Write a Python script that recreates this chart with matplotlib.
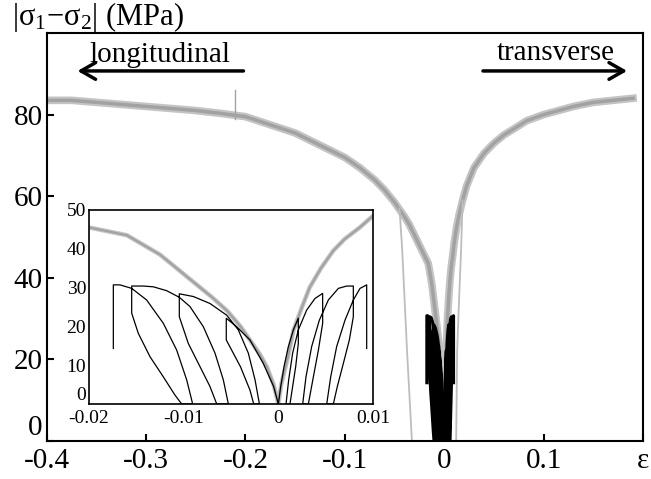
import matplotlib
matplotlib.use('Agg')
import matplotlib.pyplot as plt

plt.rcParams['font.family'] = ['Liberation Serif', 'DejaVu Serif']
plt.rcParams['mathtext.fontset'] = 'custom'
plt.rcParams['mathtext.rm'] = 'Liberation Serif'
plt.rcParams['mathtext.it'] = 'Liberation Serif:italic'

# gray monotonic curve (longitudinal side negative, transverse side positive)
gray_x = [-0.4, -0.375, -0.35, -0.325, -0.3, -0.275, -0.25, -0.225, -0.2, -0.175,
          -0.15, -0.125, -0.1, -0.085, -0.07, -0.06, -0.05, -0.04, -0.035, -0.03,
          -0.025, -0.02, -0.016, -0.0125, -0.009, -0.007, -0.0054, -0.004, -0.003,
          -0.002, -0.0012, -0.0005, 0.0,
          0.0003, 0.001, 0.0016, 0.0025, 0.0033, 0.0045, 0.0058, 0.007, 0.0086, 0.01,
          0.0125, 0.015, 0.0185, 0.0225, 0.03, 0.04, 0.05, 0.06, 0.07, 0.083, 0.1,
          0.115, 0.13, 0.15, 0.17, 0.19]
gray_y = [83.5, 83.5, 83, 82.5, 82, 81.5, 81, 80.3, 79.5, 77.5,
          75.5, 72.5, 69.5, 67, 64, 61.5, 58.5, 55, 53, 50.5,
          48, 45.5, 43.5, 38.5, 31.5, 27.5, 24, 20, 16.5,
          13, 9.5, 5, 0,
          5, 12, 19, 25, 30, 35, 39.5, 42.5, 45.5, 48.5,
          52.5, 55.5, 59, 62.5, 67, 70.5, 73, 75, 76.5, 78.5, 80,
          81, 82, 83, 83.5, 84]

# thin gray unloading branches
unl_left_x = [-0.045, -0.0423, -0.0374, -0.0325]
unl_left_y = [57, 47, 22, 0]
unl_right_x = [0.0185, 0.017, 0.015, 0.013, 0.012]
unl_right_y = [59, 47, 35, 22, 0]

spike_x = [-0.211, -0.211]
spike_y = [79, 86]

# cyclic loops, longitudinal (negative strain)
loop_l_x = [0.0, -0.0005, -0.0016, -0.0030, -0.0044, -0.0055,
            -0.0055, -0.0040, -0.0030, -0.0026, -0.0020,
            -0.00246, -0.00317, -0.00423, -0.00546, -0.00722, -0.00898, -0.01046,
            -0.01046, -0.00951, -0.00827, -0.00722, -0.00651, -0.00528,
            -0.00581, -0.00669, -0.00792, -0.00933, -0.01046, -0.0118, -0.0132, -0.01426, -0.01549,
            -0.01549, -0.01479, -0.01356, -0.01215, -0.01092, -0.01021, -0.00905,
            -0.00968, -0.01074, -0.01215, -0.01391, -0.01549, -0.01673, -0.01743,
            -0.01743]
loop_l_y = [0, 4.5, 10.5, 16.5, 19.9, 22.1,
            16.5, 9.6, 3.6, 0, 0,
            6.2, 13.1, 19.1, 22.9, 25.9, 27.7, 28.4,
            22.5, 15.6, 9.6, 4.5, 0, 0,
            6.2, 13.1, 19.9, 25.1, 27.5, 29.2, 30.2, 30.4, 30.4,
            23.4, 18.2, 12.2, 7.0, 2.3, 0, 0,
            6.2, 13.9, 20.8, 26.8, 29.8, 30.7, 30.7,
            14.3]

# cyclic loops, transverse (positive strain)
loop_t_x = [0.0, 0.00025, 0.0006, 0.00106, 0.00158, 0.00211,
            0.00211, 0.00183, 0.00151, 0.00123, 0.00081,
            0.00109, 0.00151, 0.00211, 0.00299, 0.00387, 0.00468,
            0.00468, 0.00423, 0.0037, 0.00317, 0.00257,
            0.00292, 0.00352, 0.00433, 0.00528, 0.00634, 0.00722, 0.00792,
            0.00792, 0.0075, 0.00687, 0.00623, 0.00581, 0.00511,
            0.00553, 0.00616, 0.00704, 0.00792, 0.00863, 0.00933,
            0.00933]
loop_t_y = [0, 4.5, 9.6, 14.8, 19.1, 22.1,
            15.6, 9.6, 4.5, 0, 0,
            6.2, 13.1, 19.1, 24.2, 27.2, 28.5,
            20.8, 13.9, 7.0, 0, 0,
            7.0, 14.8, 21.6, 26.8, 29.8, 30.4, 30.4,
            22.5, 16.5, 10.5, 4.5, 0, 0,
            7.0, 14.8, 21.6, 26.8, 29.8, 30.7,
            14.3]

main_xticks = [-0.4, -0.3, -0.2, -0.1, 0.0, 0.1, 0.2]
main_xlabels = ['-0.4', '-0.3', '-0.2', '-0.1', '0', '0.1', 'ε']
main_yticks = [0, 20, 40, 60, 80]
inset_xticks = [-0.02, -0.01, 0.0, 0.01]
inset_xlabels = ['-0.02', '-0.01', '0', '0.01']
inset_yticks = [0, 10, 20, 30, 40, 50]

gray_light = '#c4c4c4'
gray_dark = '#a2a2a2'

fig = plt.figure(figsize=(6.51, 4.79), dpi=100)
ax = fig.add_axes([0.0717, 0.0793, 0.916, 0.8518])

# noisy band look: wide light stroke under a narrower darker one
ax.plot(gray_x, gray_y, color=gray_light, lw=5.5, solid_joinstyle='round', zorder=2)
ax.plot(gray_x, gray_y, color=gray_dark, lw=2.5, solid_joinstyle='round', zorder=2)
ax.plot(spike_x, spike_y, color=gray_dark, lw=1.0, zorder=2)
ax.plot(unl_left_x, unl_left_y, color='#bdbdbd', lw=1.3, zorder=2)
ax.plot(unl_right_x, unl_right_y, color='#bdbdbd', lw=1.3, zorder=2)
ax.plot(loop_l_x, loop_l_y, color='black', lw=2.3, zorder=3)
ax.plot(loop_t_x, loop_t_y, color='black', lw=2.3, zorder=3)

ax.set_xlim(-0.4, 0.2)
ax.set_ylim(0, 100)
ax.set_xticks(main_xticks)
ax.set_xticklabels(main_xlabels)
ax.set_yticks(main_yticks)
ax.set_yticklabels([str(v) for v in main_yticks])
ax.tick_params(direction='in', length=5, width=1.5, labelsize=21, pad=3)
ax.tick_params(axis='x', pad=5)
ax.get_yticklabels()[0].set_verticalalignment('bottom')
for s in ax.spines.values():
    s.set_linewidth(1.5)

ax.annotate('', xy=(-0.369, 90.7), xytext=(-0.202, 90.7),
            arrowprops=dict(arrowstyle='->,head_length=0.7,head_width=0.4',
                            lw=2.5, color='black', shrinkA=0, shrinkB=0,
                            mutation_scale=15))
ax.annotate('', xy=(0.184, 90.7), xytext=(0.039, 90.7),
            arrowprops=dict(arrowstyle='->,head_length=0.7,head_width=0.4',
                            lw=2.5, color='black', shrinkA=0, shrinkB=0,
                            mutation_scale=15))
ax.text(-0.286, 93, 'longitudinal', fontsize=21, ha='center', va='baseline')
ax.text(0.112, 93.4, 'transverse', fontsize=21, ha='center', va='baseline')

fig.text(0.018, 0.948, '|' + r'$\mathrm{\sigma}_1$' + '−' + r'$\mathrm{\sigma}_2$' + '| (MPa)',
         fontsize=22, ha='left', va='baseline')

# inset
axin = fig.add_axes([0.1367, 0.1566, 0.4363, 0.405])
axin.set_facecolor('white')
axin.plot(gray_x, gray_y, color=gray_light, lw=3.2, solid_joinstyle='round')
axin.plot(gray_x, gray_y, color=gray_dark, lw=1.5, solid_joinstyle='round')
axin.plot(loop_l_x, loop_l_y, color='black', lw=0.9)
axin.plot(loop_t_x, loop_t_y, color='black', lw=0.9)
axin.set_xlim(-0.02, 0.01)
axin.set_ylim(0, 50)
axin.set_xticks(inset_xticks)
axin.set_xticklabels(inset_xlabels)
axin.set_yticks(inset_yticks)
axin.set_yticklabels([str(v) for v in inset_yticks])
axin.tick_params(length=0, labelsize=14, pad=2)
axin.tick_params(axis='x', pad=4)
axin.get_yticklabels()[0].set_verticalalignment('bottom')
for s in axin.spines.values():
    s.set_linewidth(1.2)

fig.savefig('out.png', dpi=100)
